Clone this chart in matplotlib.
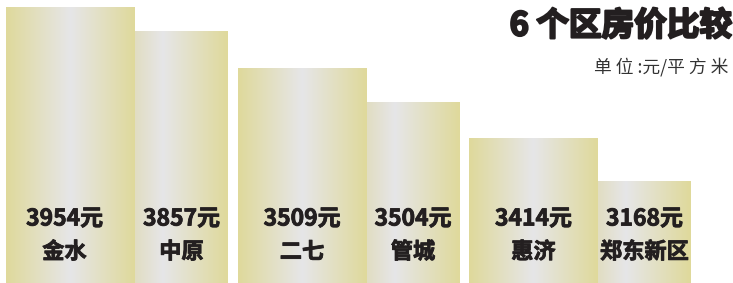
import numpy as np
import matplotlib
matplotlib.use('Agg')
import matplotlib.pyplot as plt
import matplotlib.patheffects as pe
from matplotlib.colors import LinearSegmentedColormap

plt.rcParams['font.family'] = ['Noto Sans CJK SC', 'DejaVu Sans']

districts = ['金水', '中原', '二七', '管城', '惠济', '郑东新区']
prices = [3954, 3857, 3509, 3504, 3414, 3168]
# drawn bar heights as they appear in the picture (not to scale with prices)
bar_heights = [276, 252, 215, 181, 145, 102]

title = '6 个区房价比较'
unit = '单 位 :元/平 方 米'


def main():
    fig = plt.figure(figsize=(7.33, 2.83), dpi=100)
    ax = fig.add_axes([0, 0, 1, 1])
    ax.set_xlim(0, 733)
    ax.set_ylim(0, 283)
    ax.axis('off')

    wide, narrow, gap = 129, 93, 9.5
    widths = [wide if i % 2 == 0 else narrow for i in range(len(districts))]
    lefts = []
    x = 6
    for i, w in enumerate(widths):
        lefts.append(x)
        x += w
        if i % 2 == 1:
            x += gap

    bars = ax.bar(lefts, bar_heights, width=widths, align='edge',
                  color='none', edgecolor='none')

    gold = '#dfd99b'
    light = '#e6e6e8'
    cm_wide = LinearSegmentedColormap.from_list(
        'w', [(0, gold), (0.5, light), (1, gold)])
    cm_narrow = LinearSegmentedColormap.from_list(
        'n', [(0, '#e1ddc2'), (0.3, light), (1, gold)])
    grad = np.linspace(0, 1, 256).reshape(1, -1)
    thick = [pe.withStroke(linewidth=0.6, foreground='#231f20')]

    for i, b in enumerate(bars):
        x0, w, h = b.get_x(), b.get_width(), b.get_height()
        cm = cm_wide if i % 2 == 0 else cm_narrow
        ax.imshow(grad, cmap=cm, aspect='auto',
                  extent=(x0, x0 + w, 0, h), zorder=1)
        cx = x0 + w / 2 - (6 if i == 0 else 0)
        ax.text(cx, 64, f'{prices[i]}元', ha='center', va='center',
                fontsize=16.5, fontweight='bold', color='#231f20', zorder=3,
                path_effects=thick)
        ax.text(cx, 31, districts[i], ha='center', va='center',
                fontsize=16, fontweight='bold', color='#231f20', zorder=3,
                path_effects=thick)

    ax.text(732, 257, title, ha='right', va='center', fontsize=23.5,
            fontweight='heavy', color='#231f20',
            path_effects=[pe.withStroke(linewidth=1.6, foreground='#231f20')])
    ax.text(728, 216, unit, ha='right', va='center', fontsize=12.8,
            color='#333333')

    fig.savefig('out.png', dpi=100)


if __name__ == '__main__':
    main()
